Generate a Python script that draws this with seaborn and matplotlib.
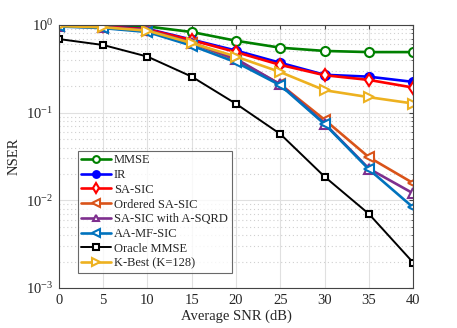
import numpy as np
import pandas as pd
import matplotlib
matplotlib.use("Agg")
import matplotlib.pyplot as plt
import seaborn as sns
from matplotlib.ticker import LogLocator, NullFormatter

snr = [0, 5, 10, 15, 20, 25, 30, 35, 40]

mmse = [0.99, 0.98, 0.96, 0.83, 0.66, 0.55, 0.505, 0.49, 0.49]
ir = [0.99, 0.96, 0.90, 0.68, 0.51, 0.37, 0.27, 0.257, 0.224]
sa_sic = [0.99, 0.96, 0.89, 0.67, 0.49, 0.35, 0.267, 0.236, 0.193]
ordered_sa_sic = [0.97, 0.93, 0.85, 0.62, 0.40, 0.21, 0.083, 0.031, 0.0157]
sa_sic_asqrd = [0.98, 0.95, 0.87, 0.63, 0.41, 0.21, 0.075, 0.023, 0.012]
aa_mf_sic = [0.96, 0.92, 0.83, 0.58, 0.375, 0.205, 0.074, 0.0226, 0.0083]
oracle_mmse = [0.69, 0.59, 0.435, 0.257, 0.126, 0.057, 0.0186, 0.007, 0.00195]
k_best = [0.97, 0.94, 0.86, 0.62, 0.435, 0.29, 0.18, 0.15, 0.127]

labels = ["MMSE", "IR", "SA-SIC", "Ordered SA-SIC", "SA-SIC with A-SQRD",
          "AA-MF-SIC", "Oracle MMSE", "K-Best (K=128)"]
series = [mmse, ir, sa_sic, ordered_sa_sic, sa_sic_asqrd, aa_mf_sic, oracle_mmse, k_best]
colors = ["#008000", "#0000FF", "#FF0000", "#D95319", "#7E2F8E", "#0072BD", "#000000", "#EDB120"]
markers = ["o", "o", "d", "<", "^", "<", "s", ">"]
filled = [False, True, False, False, False, False, False, False]
lws = [1.9, 1.9, 1.9, 1.9, 1.9, 1.9, 1.4, 1.9]
msizes = [6.5, 6.5, 6.5, 7, 6.5, 7, 5, 7]

sns.set_style("white")
plt.rcParams['font.family'] = ['Liberation Serif', 'DejaVu Serif']
plt.rcParams['mathtext.fontset'] = 'stix'

fig = plt.figure(figsize=(4.57, 3.28), dpi=100)
ax = fig.add_axes([0.129, 0.122, 0.775, 0.802])

for lab, vals, c, m, f, lw, ms in zip(labels, series, colors, markers, filled, lws, msizes):
    df = pd.DataFrame({"snr": snr, "nser": vals})
    sns.lineplot(data=df, x="snr", y="nser", ax=ax, color=c, marker=m, label=lab,
                 linewidth=lw, markersize=ms,
                 markerfacecolor=(c if f else "white"), markeredgecolor=c,
                 markeredgewidth=1.5)

ax.set_yscale("log")
ax.set_xlim(0, 40)
ax.set_ylim(1e-3, 1)
ax.set_xticks(snr)
ax.yaxis.set_major_locator(LogLocator(base=10, numticks=10))
ax.yaxis.set_minor_locator(LogLocator(base=10, subs=np.arange(2, 10), numticks=20))
ax.yaxis.set_minor_formatter(NullFormatter())

ax.grid(True, which="major", color="#e0e0e0", linewidth=0.8, linestyle="-")
ax.grid(True, which="minor", axis="y", color="#d0d0d0", linewidth=0.8, linestyle=(0, (1, 2.5)))
ax.set_axisbelow(True)
for s in ax.spines.values():
    s.set_color("#444444")
    s.set_linewidth(0.8)
ax.tick_params(which="both", direction="in", color="#444444", labelsize=10.5,
               top=True, right=True, length=3, pad=4)
ax.tick_params(which="minor", length=1.8)

ax.set_xlabel("Average SNR (dB)", fontsize=10.5, labelpad=2)
ax.set_ylabel("NSER", fontsize=10.5, labelpad=4)

leg = ax.legend(loc="lower left", bbox_to_anchor=(0.053, 0.056), fontsize=9,
                frameon=True, fancybox=False, edgecolor="#444444",
                handlelength=2.4, labelspacing=0.22, borderpad=0.3, handletextpad=0.2,
                borderaxespad=0, markerscale=0.75)
leg.get_frame().set_linewidth(0.8)

fig.savefig("out.png", dpi=100)
